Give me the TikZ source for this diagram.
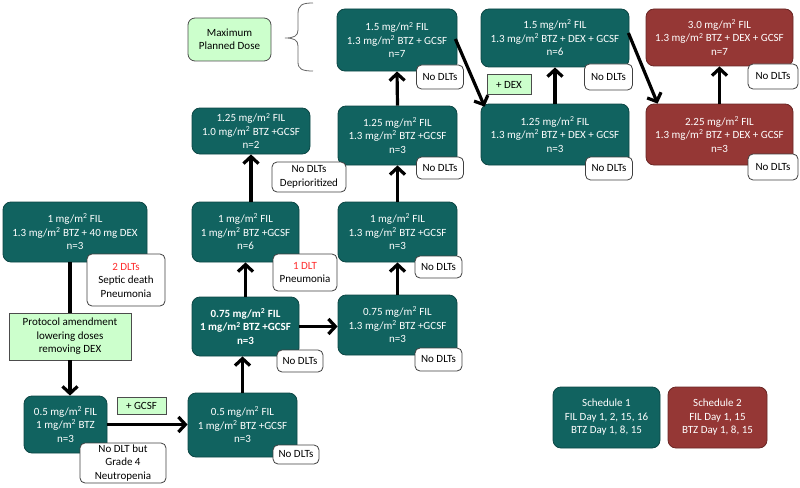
\documentclass[tikz,border=0pt]{standalone}
\usepackage{fontspec}
\setmainfont{Carlito}
\usetikzlibrary{arrows.meta}
\definecolor{teal1}{RGB}{17,99,96}
\definecolor{tealedge}{RGB}{12,70,68}
\definecolor{red1}{RGB}{149,55,53}
\definecolor{rededge}{RGB}{105,38,36}
\definecolor{lgreen}{RGB}{204,255,204}
\definecolor{dltred}{RGB}{255,45,45}
\newcommand{\msq}{mg/m\textsuperscript{2}}
\begin{document}
\begin{tikzpicture}[x=1pt,y=-1pt,
 base/.style={inner sep=0pt, align=center, font=\fontsize{11}{13.5}\selectfont},
 sz/.style 2 args={minimum width=#1pt, minimum height=#2pt},
 tealbox/.style={base, rounded corners=8pt, fill=teal1, draw=tealedge, line width=0.8pt, text=white},
 redbox/.style={base, rounded corners=8pt, fill=red1, draw=rededge, line width=0.8pt, text=white},
 notebox/.style={base, rounded corners=5pt, fill=white, draw=black!75, line width=0.8pt, text=black},
 greenbox/.style={base, fill=lgreen, draw=black!70, line width=0.8pt},
 flow/.style={line width=3.2pt, -{Straight Barb[length=7pt,width=15pt]}},
 plainline/.style={line width=3.2pt},
]
\useasboundingbox (0,0) rectangle (800,487);

% main boxes
\node[tealbox, sz={144}{60}] (A) at (75,232) {1 \msq{} FIL\\1.3 \msq{} BTZ + 40 mg DEX\\n=3};
\node[greenbox, sz={122}{47}] (P) at (70,336.5) {Protocol amendment\\lowering doses\\removing DEX};
\node[tealbox, sz={83}{57}] (B) at (65.5,424.5) {0.5 \msq{} FIL\\1 \msq{} BTZ\\n=3};
\node[greenbox, sz={49}{17}] (GC) at (141.5,405.5) {+ GCSF};
\node[tealbox, sz={109}{64}] (C) at (242.5,425) {0.5 \msq{} FIL\\1 \msq{} BTZ +GCSF\\n=3};
\node[tealbox, sz={107}{59}, font=\fontsize{11}{13.5}\selectfont\bfseries] (D) at (245.5,326.5) {0.75 \msq{} FIL\\1 \msq{} BTZ +GCSF\\n=3};
\node[tealbox, sz={107}{60}] (E) at (245.5,232) {1 \msq{} FIL\\1 \msq{} BTZ +GCSF\\n=6};
\node[tealbox, sz={118}{46}] (F) at (251,131) {1.25 \msq{} FIL\\1.0 \msq{} BTZ +GCSF\\n=2};
\node[tealbox, sz={119}{60}] (G) at (397.5,325) {0.75 \msq{} FIL\\1.3 \msq{} BTZ +GCSF\\n=3};
\node[tealbox, sz={119}{60}] (H) at (397.5,232) {1 \msq{} FIL\\1.3 \msq{} BTZ +GCSF\\n=3};
\node[tealbox, sz={119}{59}] (I) at (397.5,135.5) {1.25 \msq{} FIL\\1.3 \msq{} BTZ +GCSF\\n=3};
\node[tealbox, sz={120}{62}] (J) at (397,40) {1.5 \msq{} FIL\\1.3 \msq{} BTZ + GCSF\\n=7};
\node[tealbox, sz={148}{58}] (K) at (555,38) {1.5 \msq{} FIL\\1.3 \msq{} BTZ + DEX + GCSF\\n=6};
\node[tealbox, sz={148}{61}] (L) at (555,134.5) {1.25 \msq{} FIL\\1.3 \msq{} BTZ + DEX + GCSF\\n=3};
\node[greenbox, sz={44}{20}] (DX) at (509,84.5) {+ DEX};
\node[redbox, sz={147}{57}] (N) at (719.5,37.5) {3.0 \msq{} FIL\\1.3 \msq{} BTZ + DEX + GCSF\\n=7};
\node[redbox, sz={147}{61}] (M) at (719.5,134.5) {2.25 \msq{} FIL\\1.3 \msq{} BTZ + DEX + GCSF\\n=3};
\node[base, sz={83}{43}, rounded corners=7pt, fill=lgreen, draw=black!70, line width=0.8pt] (MX) at (229.5,39.5) {Maximum\\Planned Dose};
\node[tealbox, sz={107}{61}] (S1) at (606.5,417.5) {Schedule 1\\FIL Day 1, 2, 15, 16\\BTZ Day 1, 8, 15};
\node[redbox, sz={99}{61}] (S2) at (717.5,417.5) {Schedule 2\\FIL Day 1, 15\\BTZ Day 1, 8, 15};

% brace
\draw[black!60, line width=0.8pt] (313,3) .. controls (302,3) and (298,5) .. (298,14) -- (298,30) .. controls (298,36) and (294,38) .. (285,38) .. controls (294,38) and (298,40) .. (298,46) -- (298,62) .. controls (298,69) and (302,71) .. (313,71);

% connectors
\draw[plainline] (P.north |- A.south) -- (P.north);
\draw[flow] (P.south) -- (P.south |- B.north);
\draw[flow] (B.east) -- (B.east -| C.west);
\draw[flow] (C.north) -- (C.north |- D.south);
\draw[flow] (D.east) -- (D.east -| G.west);
\draw[flow] (D.north) -- (D.north |- E.south);
\draw[flow] (F.south |- E.north) -- (F.south);
\draw[flow] (G.north) -- (H.south);
\draw[flow] (H.north) -- (I.south);
\draw[flow] (I.north) -- (J.south);
\draw[flow] ([shift={(-2,-1)}]J.east) -- ([shift={(4,3)}]L.north west);
\draw[flow] (L.north) -- (K.south);
\draw[flow] ([shift={(-1,-5)}]K.east) -- ([xshift=12pt]M.north west);
\draw[flow] (M.north) -- (N.south);

% notes
\node[notebox, sz={78}{52}] (nA) at (126,280) {\textcolor{dltred}{2 DLTs}\\Septic death\\Pneumonia};
\node[notebox, sz={86}{40}] (nB) at (123,463) {No DLT but\\Grade 4\\Neutropenia};
\node[notebox, sz={46}{19}] (nC) at (296,454.5) {No DLTs};
\node[notebox, sz={46}{22}] (nD) at (300,361) {No DLTs};
\node[notebox, sz={64}{37}] (nE) at (305,272.5) {\textcolor{dltred}{1 DLT}\\Pneumonia};
\node[notebox, sz={74}{30}] (nF) at (309,177) {No DLTs\\Deprioritized};
\node[notebox, sz={47}{23}] (nG) at (438.5,359.5) {No DLTs};
\node[notebox, sz={47}{22}] (nH) at (438.5,267) {No DLTs};
\node[notebox, sz={47}{22}] (nI) at (440,168) {No DLTs};
\node[notebox, sz={47}{24}] (nJ) at (440,77) {No DLTs};
\node[notebox, sz={48}{26}] (nK) at (608.5,77) {No DLTs};
\node[notebox, sz={47}{23}] (nL) at (609,168.5) {No DLTs};
\node[notebox, sz={50}{25}] (nN) at (773,76.5) {No DLTs};
\node[notebox, sz={50}{26}] (nM) at (773,167) {No DLTs};
\end{tikzpicture}
\end{document}
